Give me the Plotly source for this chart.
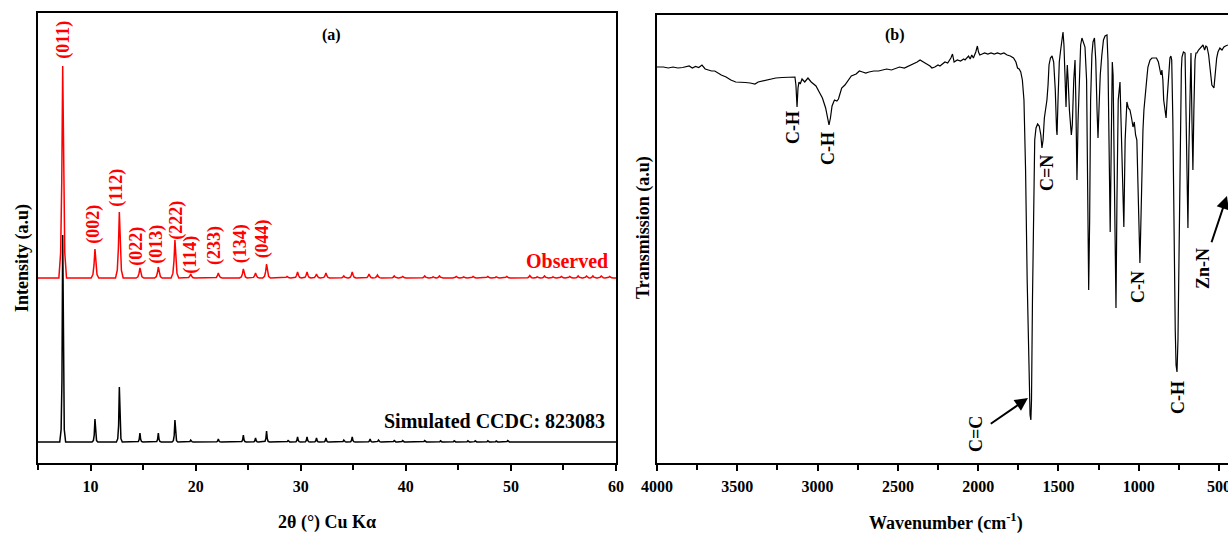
import plotly.graph_objects as go

# ---------------- Panel (a): PXRD peak lists ----------------
obs_pos = [7.35, 10.42, 12.74, 14.7, 16.45, 18.03, 19.53, 22.16, 24.54, 25.7, 26.75,
           28.7, 29.7, 30.6, 31.5, 32.4, 34.1, 34.9, 36.5, 37.3, 38.9, 39.7, 41.8, 42.6,
           43.2, 44.8, 45.5, 46.4, 47.8, 48.6, 49.6, 51.8, 52.5, 53.2, 54.0, 54.8, 55.6,
           56.4, 57.2, 57.8, 58.6, 59.4]
obs_int = [212, 29, 66, 10, 11, 38, 4, 5, 9, 5, 14,
           1.5, 6, 6, 4, 5, 2, 6, 4, 3, 2, 1.5, 2, 1.2,
           2, 1.5, 1.2, 1.5, 1.5, 1.2, 1.5, 2.5, 1.2, 2, 1.2, 1.5, 1.5,
           2, 2, 2, 2, 1.5]

sim_pos = [7.35, 10.42, 12.74, 14.7, 16.45, 18.03, 19.53, 22.16, 24.54, 25.7, 26.75,
           28.8, 29.7, 30.6, 31.5, 32.4, 34.1, 34.9, 36.6, 37.4, 38.9, 39.7, 41.8,
           43.3, 44.6, 45.9, 46.6, 47.8, 48.6, 49.7]
sim_int = [207, 23, 55, 9, 9, 22, 2, 3, 7, 4, 11,
           1.5, 5, 5, 4, 4, 2, 5, 3, 2, 1.5, 1.5, 1.5,
           1.2, 1.2, 1.2, 1.2, 1.2, 1.0, 1.5]

hkl_labels = ["(011)", "(002)", "(112)", "(022)", "(013)", "(222)", "(114)", "(233)", "(134)", "(044)"]
hkl_x = [7.35, 10.2, 12.4, 14.3, 16.2, 18.1, 19.45, 21.75, 24.25, 26.35]
hkl_y = [423, 239, 275, 217, 219, 243, 208, 217, 219, 224]

# ---------------- Panel (b): FTIR spectrum ----------------
wavenumber = [4000, 3960, 3930, 3900, 3870, 3840, 3800, 3780, 3760, 3740, 3720, 3700, 3680, 3660,
              3640, 3620, 3600, 3570, 3540, 3510, 3480, 3450, 3420, 3390, 3370, 3340, 3300, 3260,
              3220, 3180, 3150, 3141, 3135, 3128, 3122, 3116, 3108, 3097, 3080, 3060, 3040, 3010,
              2990, 2970, 2950, 2935, 2929, 2920, 2910, 2895, 2880, 2870, 2850, 2830, 2810, 2790,
              2760, 2740, 2720, 2700, 2680, 2650, 2620, 2600, 2570, 2540, 2510, 2490, 2460, 2430,
              2400, 2380, 2362, 2345, 2331, 2300, 2288, 2270, 2250, 2238, 2220, 2207, 2190, 2170,
              2160, 2150, 2130, 2110, 2090, 2082, 2060, 2050, 2040, 2030, 2015, 2005, 1998, 1990,
              1975, 1960, 1940, 1920, 1900, 1880, 1860, 1840, 1820, 1800, 1780, 1765, 1755, 1745,
              1735, 1725, 1715, 1705, 1695, 1685, 1677, 1672, 1668, 1662, 1655, 1648, 1640, 1630,
              1620, 1610, 1603, 1596, 1588, 1580, 1572, 1565, 1559, 1550, 1540, 1530, 1520, 1512,
              1509, 1503, 1495, 1488, 1480, 1472, 1466, 1460, 1455, 1453, 1448, 1445, 1440, 1432,
              1420, 1414, 1405, 1400, 1397, 1392, 1385, 1378, 1370, 1362, 1354, 1345, 1335, 1325,
              1318, 1312, 1306, 1300, 1292, 1285, 1276, 1268, 1260, 1254, 1248, 1240, 1230, 1220,
              1210, 1198, 1192, 1185, 1178, 1172, 1165, 1160, 1150, 1142, 1136, 1128, 1117, 1105,
              1093, 1085, 1074, 1065, 1055, 1045, 1036, 1028, 1020, 1012, 1005, 998, 993, 988,
              980, 974, 968, 960, 955, 948, 943, 930, 918, 905, 890, 878, 868, 862,
              856, 850, 845, 837, 830, 824, 815, 806, 800, 795, 788, 780, 773, 768,
              762, 756, 750, 742, 735, 731, 722, 712, 705, 700, 694, 688, 680, 675,
              669, 663, 657, 650, 644, 638, 628, 619, 610, 600, 590, 582, 575, 565,
              555, 545, 532, 525, 515, 507, 495, 482, 470, 460, 451, 445]
transmission = [396, 396, 395, 396, 395, 395.5, 397, 395, 396.5, 395.5, 398, 394, 393, 392,
                392, 390, 388, 386, 383, 381, 381, 380.5, 380, 379, 381, 382, 384, 385,
                385.5, 386, 386, 386, 378, 356, 375, 381, 379, 384, 381, 385, 381, 377,
                371, 365, 355, 341, 338, 345, 357, 363, 362, 364, 375, 378, 383, 387,
                389, 392, 391, 390, 391, 392, 392, 393, 394, 393, 395, 396, 395, 397,
                399, 401, 403, 401, 400, 397, 395, 396, 398, 397, 399, 401, 400, 405,
                409, 401, 403, 402, 404, 403, 407, 404, 408, 405, 411, 417, 411, 408,
                409, 410, 409, 410, 409, 410, 409, 410, 408, 407, 405, 401, 395, 394,
                391, 383, 363, 293, 183, 93, 48, 43, 63, 163, 263, 323, 335, 339,
                337, 328, 315, 323, 345, 355, 363, 378, 398, 405, 407, 401, 373, 333,
                328, 363, 401, 411, 423, 431, 418, 383, 358, 356, 388, 398, 383, 353,
                328, 338, 383, 401, 403, 363, 283, 343, 393, 418, 425, 421, 416, 383,
                263, 173, 243, 363, 408, 421, 425, 403, 353, 325, 353, 388, 408, 423,
                427, 428, 403, 323, 231, 313, 401, 388, 263, 155, 263, 363, 381, 303,
                236, 323, 361, 355, 353, 345, 336, 341, 328, 323, 283, 223, 200, 233,
                313, 333, 353, 370, 373, 388, 396, 403, 405, 405, 405, 401, 390, 388,
                393, 383, 363, 351, 345, 363, 388, 405, 407, 403, 343, 213, 133, 98,
                91, 123, 213, 323, 393, 406, 411, 410, 353, 283, 235, 313, 398, 410,
                343, 293, 353, 403, 410, 410, 413, 415, 417, 418, 413, 417, 416, 408,
                393, 378, 375, 388, 405, 411, 415, 413, 416, 417, 418, 418]

band_labels = ["C-H", "C-H", "C=N", "C-N", "C-H"]
band_x = [3153, 2935, 1572, 1005, 756]
band_y = [335, 314, 290, 176, 66]

# ---------------- helpers ----------------
OFFS = [-0.28, -0.15, -0.07, 0.0, 0.07, 0.15, 0.28]
FR_OBS = [0.0, 0.12, 0.45, 1.0, 0.45, 0.12, 0.0]
FR_SIM = [0.0, 0.06, 0.3, 1.0, 0.3, 0.06, 0.0]


def pattern(pos, hts, base, fracs, scale, lo=5.0, hi=60.0):
    xs, ys = [lo], [base]
    for p, h in sorted(zip(pos, hts)):
        for o, f in zip(OFFS, fracs):
            xs.append(p + o * scale)
            ys.append(base + h * f)
    xs.append(hi)
    ys.append(base)
    return xs, ys


FONT = "Liberation Serif"
W, H = 1228, 533
RED = "#ff0000"

fig = go.Figure()

ox, oy = pattern(obs_pos, obs_int, 185, FR_OBS, 1.3)
sx, sy = pattern(sim_pos, sim_int, 21, FR_SIM, 1.0)
fig.add_trace(go.Scatter(x=sx, y=sy, mode="lines", line=dict(color="black", width=1.5),
                         xaxis="x", yaxis="y", showlegend=False, hoverinfo="skip"))
fig.add_trace(go.Scatter(x=ox, y=oy, mode="lines", line=dict(color=RED, width=1.5),
                         xaxis="x", yaxis="y", showlegend=False, hoverinfo="skip"))
fig.add_trace(go.Scatter(x=wavenumber, y=transmission, mode="lines",
                         line=dict(color="black", width=1.2),
                         xaxis="x2", yaxis="y2", showlegend=False, hoverinfo="skip"))

ydom = [1 - 463 / H, 1 - 13 / H]
ydom2 = [1 - 463 / H, 1 - 15 / H]
axis_common = dict(showline=True, linecolor="black", linewidth=2, showgrid=False,
                   zeroline=False, automargin=False)
tickfont = dict(family=FONT, size=16, color="black", weight="bold")

fig.update_layout(
    width=W, height=H, margin=dict(l=0, r=0, t=0, b=0, autoexpand=False),
    paper_bgcolor="white", plot_bgcolor="white",
    xaxis=dict(domain=[38 / W, 616 / W], range=[5, 60], tick0=0, dtick=10,
               ticks="outside", ticklen=6, tickwidth=2, tickcolor="black",
               minor=dict(ticks="outside", ticklen=5, tickwidth=2, dtick=5, tick0=0,
                          tickcolor="black"),
               mirror=True, tickfont=tickfont, ticklabelstandoff=2, anchor="y",
               ticklabeloverflow="allow", **axis_common),
    yaxis=dict(domain=ydom, range=[0, 450], showticklabels=False, ticks="",
               mirror=True, anchor="x", **axis_common),
    xaxis2=dict(domain=[657 / W, 1.0], range=[4000, 444.5], tick0=0, dtick=500,
                ticks="outside", ticklen=6, tickwidth=2, tickcolor="black",
                minor=dict(ticks="outside", ticklen=5, tickwidth=2, dtick=250, tick0=0,
                           tickcolor="black"),
                mirror=True, tickfont=tickfont, ticklabelstandoff=2, anchor="y2",
                ticklabeloverflow="allow", **axis_common),
    yaxis2=dict(domain=ydom2, range=[0, 448], showticklabels=False, ticks="",
                mirror=False, anchor="x2", **axis_common),
)

ann = []
lab_font = dict(family=FONT, size=18, color=RED, weight="bold")
for t, x, y in zip(hkl_labels, hkl_x, hkl_y):
    ann.append(dict(text=t, x=x, y=y, xref="x", yref="y", showarrow=False,
                    textangle=-90, font=lab_font, xanchor="center", yanchor="middle"))
ann.append(dict(text="Observed", x=59.42, y=202, xref="x", yref="y", showarrow=False,
                xanchor="right", yanchor="middle",
                font=dict(family=FONT, size=20, color=RED, weight="bold")))
ann.append(dict(text="Simulated CCDC: 823083", x=59.14, y=42, xref="x", yref="y",
                showarrow=False, xanchor="right", yanchor="middle",
                font=dict(family=FONT, size=20, color="black", weight="bold")))
ann.append(dict(text="(a)", x=32.9, y=428, xref="x", yref="y", showarrow=False,
                xanchor="center", yanchor="middle",
                font=dict(family=FONT, size=16, color="black", weight="bold")))
ann.append(dict(text="(b)", x=2518, y=428, xref="x2", yref="y2", showarrow=False,
                xanchor="center", yanchor="middle",
                font=dict(family=FONT, size=16, color="black", weight="bold")))

bfont = dict(family=FONT, size=18, color="black", weight="bold")
for t, x, y in zip(band_labels, band_x, band_y):
    ann.append(dict(text=t, x=x, y=y, xref="x2", yref="y2", showarrow=False,
                    xanchor="center", yanchor="middle", textangle=-90, font=bfont))
# labelled arrows (text sits at the arrow tail)
ann.append(dict(text="C=C", x=1690, y=65, xref="x2", yref="y2", showarrow=True,
                textangle=-90, font=bfont, arrowhead=2, arrowsize=1.3, arrowwidth=2,
                arrowcolor="black", ax=-52, ay=36, standoff=0, startstandoff=4))
ann.append(dict(text="Zn-N", x=451, y=267, xref="x2", yref="y2", showarrow=True,
                textangle=-90, font=bfont, arrowhead=2, arrowsize=1.3, arrowwidth=2,
                arrowcolor="black", ax=-24, ay=72, standoff=0, startstandoff=4))

# axis titles
tfont = dict(family=FONT, size=18, color="black", weight="bold")
ann.append(dict(text="Intensity (a.u)", x=22 / W, y=1 - 258 / H, xref="paper", yref="paper",
                xanchor="center", yanchor="middle",
                showarrow=False, textangle=-90, font=tfont))
ann.append(dict(text="Transmission (a.u)", x=643 / W, y=1 - 228 / H, xref="paper",
                yref="paper", xanchor="center", yanchor="middle",
                showarrow=False, textangle=-90, font=tfont))
ann.append(dict(text="2θ (°) Cu Kα", x=327 / W, y=1 - 522 / H, xref="paper", yref="paper",
                xanchor="center", yanchor="middle", showarrow=False, font=tfont))
ann.append(dict(text="Wavenumber (cm<sup>-1</sup>)", x=946 / W, y=1 - 522 / H,
                xref="paper", yref="paper", xanchor="center", yanchor="middle",
                showarrow=False, font=tfont))

fig.update_layout(annotations=ann)
fig.write_html("out.html")
